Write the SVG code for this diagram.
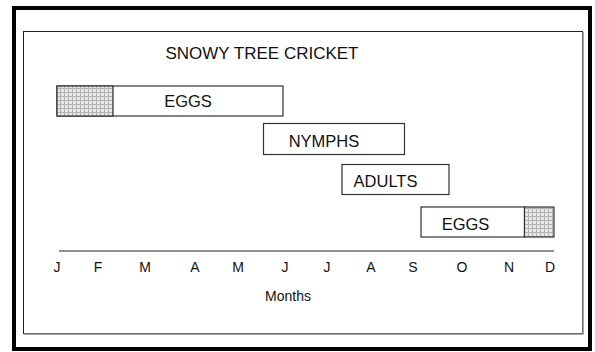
<svg xmlns="http://www.w3.org/2000/svg" width="595" height="352" viewBox="0 0 595 352">
  <style>
    .lbl { font-family: "Liberation Sans", Arial, sans-serif; fill: #111; text-anchor: middle; }
    .bar { fill: #fff; stroke: #333; stroke-width: 1.2; }
    .hatch { fill: url(#grid); stroke: #333; stroke-width: 1.2; }
    .mon { font-size: 14px; }
    .stage { font-size: 16.5px; }
  </style>
  <defs>
    <pattern id="grid" width="4" height="4" patternUnits="userSpaceOnUse">
      <rect width="4" height="4" fill="#dedede"/>
      <path d="M0 0.5H4M0.5 0V4" stroke="#b4b4b4" stroke-width="1"/>
      <rect x="1.5" y="1.5" width="2" height="2" fill="#efefef"/>
    </pattern>
  </defs>

  <!-- page background and frames -->
  <rect width="595" height="352" fill="#fff"/>
  <rect x="14" y="8" width="576" height="341" fill="none" stroke="#000" stroke-width="4"/>
  <rect x="23.5" y="31.5" width="559" height="302" fill="none" stroke="#222" stroke-width="1"/>
  <path d="M583 32V334H24" fill="none" stroke="#888" stroke-width="1.5"/>

  <!-- title -->
  <text id="title" class="lbl" x="262" y="59" font-size="17">SNOWY TREE CRICKET</text>

  <!-- life-stage bars -->
  <g id="eggs-early">
    <rect class="bar" x="57" y="86" width="226" height="30"/>
    <rect class="hatch" x="57" y="86" width="56" height="30"/>
    <text class="lbl stage" x="188" y="107">EGGS</text>
  </g>
  <g id="nymphs">
    <rect class="bar" x="263.5" y="123.5" width="141" height="31"/>
    <text class="lbl stage" x="324" y="147">NYMPHS</text>
  </g>
  <g id="adults">
    <rect class="bar" x="342" y="164.5" width="107" height="30"/>
    <text class="lbl stage" x="385.5" y="187">ADULTS</text>
  </g>
  <g id="eggs-late">
    <rect class="bar" x="421" y="207" width="103.5" height="30"/>
    <rect class="hatch" x="524.5" y="207" width="29.5" height="30"/>
    <text class="lbl stage" x="465.5" y="230">EGGS</text>
  </g>

  <!-- time axis -->
  <g id="axis">
    <line x1="59" y1="251" x2="554" y2="251" stroke="#222" stroke-width="1.2"/>
    <g class="lbl mon">
      <text x="57" y="272">J</text>
      <text x="98" y="272">F</text>
      <text x="145" y="272">M</text>
      <text x="195" y="272">A</text>
      <text x="238" y="272">M</text>
      <text x="285" y="272">J</text>
      <text x="327" y="272">J</text>
      <text x="371" y="272">A</text>
      <text x="413" y="272">S</text>
      <text x="462" y="272">O</text>
      <text x="509" y="272">N</text>
      <text x="550" y="272">D</text>
    </g>
    <text class="lbl" x="288" y="301" font-size="14">Months</text>
  </g>
</svg>
